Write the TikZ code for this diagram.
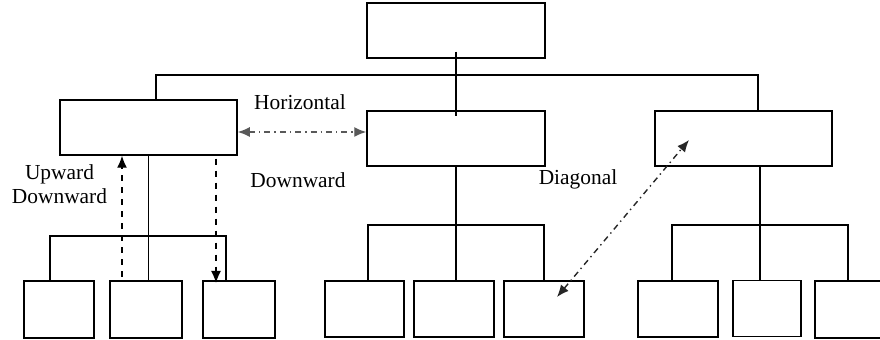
\documentclass[tikz,border=0pt]{standalone}
\usepackage{fontspec}
\setmainfont{Liberation Serif}
\usetikzlibrary{arrows.meta}

\begin{document}
\begin{tikzpicture}[x=0.5pt, y=-0.5pt]
    \tikzstyle{unit} = [draw, shape=rectangle, inner sep=0pt, line width=0.75pt]
    \tikzstyle{link} = [line width=0.7pt]
    \tikzstyle{flow} = [line width=0.7pt, dashed, -{Latex[length=6pt,width=5pt]}]
    \tikzstyle{peer} = [line width=0.7pt, dash dot, {Latex[length=6pt,width=5pt]}-{Latex[length=6pt,width=5pt]}]
    \tikzstyle{tag} = [font=\fontsize{10.7}{12}\selectfont, align=center, inner sep=0pt]

    \useasboundingbox (0,0) rectangle (880,340);
    \clip (0,0) rectangle (880,340);

    % top level and second level
    \node [unit, minimum width=89pt, minimum height=27.5pt] at (456,30.5) (top) {};
    \node [unit, minimum width=88.5pt, minimum height=27.5pt] at (148.5,127.5) (left) {};
    \node [unit, minimum width=89pt, minimum height=27.5pt] at (456,138.5) (mid) {};
    \node [unit, minimum width=88.5pt, minimum height=27.5pt] at (743.5,138.5) (right) {};

    % third level
    \node [unit, minimum width=35pt, minimum height=28.5pt] at (59,309.5) (l1) {};
    \node [unit, minimum width=36pt, minimum height=28.5pt] at (146,309.5) (l2) {};
    \node [unit, minimum width=36pt, minimum height=28.5pt] at (239,309.5) (l3) {};
    \node [unit, minimum width=39.5pt, minimum height=28pt] at (364.5,309) (m1) {};
    \node [unit, minimum width=40pt, minimum height=28pt] at (454,309) (m2) {};
    \node [unit, minimum width=40pt, minimum height=28pt] at (544,309) (m3) {};
    \node [unit, minimum width=40pt, minimum height=28pt] at (678,309) (r1) {};
    \node [unit, minimum width=34pt, minimum height=28pt] at (767,308.5) (r2) {};
    \node [unit, minimum width=40pt, minimum height=28.5pt] at (855,309.5) (r3) {};

    % labels
    \node [tag] at (300,102) (horiz) {Horizontal};
    \node [tag] at (298,180) (down) {Downward};
    \node [tag] at (59.5,184) (updown) {Upward\\Downward};
    \node [tag] at (578,179) (diag) {Diagonal};

    % tree lines
    \coordinate (b1) at (156,75);
    \coordinate (b2) at (758,75);
    \coordinate (lb1) at (50,236);
    \coordinate (lb2) at (226,236);
    \coordinate (mb1) at (368,225);
    \coordinate (mb2) at (544,225);
    \coordinate (rb1) at (672,225);
    \coordinate (rb2) at (848,225);
    \coordinate (rc) at (760,0);

    \begin{scope}[link]
    \draw ([yshift=3.5pt]top.south) -- ([yshift=-3pt]mid.north);
    \draw (left.north -| b1) |- (b2) -- (right.north -| b2);
    \draw (l1.north -| lb1) |- (lb2) -- (l3.north -| lb2);
    \draw (left.south) -- (left.south |- l2.north);
    \draw (m1.north -| mb1) |- (mb2) -- (m3.north -| mb2);
    \draw (mid.south) -- (mid.south |- m2.north);
    \draw (r1.north -| rb1) |- (rb2) -- (r3.north -| rb2);
    \draw (right.south -| rc) -- (r2.north -| rc);
    \end{scope}

    % communication arrows
    \coordinate (upfoot) at (122,277);
    \coordinate (downtip) at (216,283);
    \coordinate (hy) at (0,132);
    \coordinate (dg1) at (689,140);
    \coordinate (dg2) at (557,297);

    \draw [flow] (upfoot) -- (left.south -| upfoot);
    \draw [flow] ([yshift=-1.5pt]left.south -| downtip) -- (downtip);
    \draw [peer, black!65] (left.east |- hy) -- (mid.west |- hy);
    \draw [peer, black!85] (dg2) -- (dg1);
\end{tikzpicture}
\end{document}
